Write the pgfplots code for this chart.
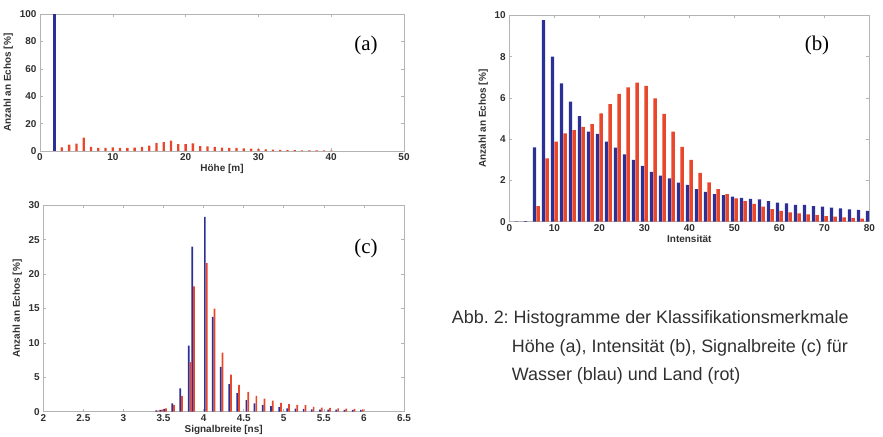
\documentclass[border=0pt]{standalone}
\usepackage{pgfplots}
\pgfplotsset{compat=1.18}
\usepackage{fontspec}
\setmainfont{Liberation Sans}
\newfontfamily\seriffont{Liberation Serif}
\definecolor{wblue}{HTML}{2B2F96}
\definecolor{lred}{HTML}{E8472B}
\definecolor{framegray}{HTML}{B4B4B4}
\definecolor{ticktext}{HTML}{303030}
\pgfplotsset{
  myaxis/.style={
    scale only axis,
    axis line style={framegray, line width=0.8bp},
    tick style={framegray, line width=0.6bp},
    major tick length=3bp,
    tick align=inside,
    xtick pos=both, ytick pos=both,
    tick label style={font=\fontsize{10}{12}\selectfont\bfseries, text=ticktext},
    /pgf/number format/assume math mode=true,
    label style={font=\fontsize{10}{12}\selectfont\bfseries, text=ticktext},
    xticklabel style={yshift=1bp},
  }
}
\frenchspacing
\begin{document}
\frenchspacing
\begin{tikzpicture}
\useasboundingbox (0,0) rectangle (883bp,-437bp);
% ---------- (a) ----------
\begin{axis}[myaxis, at={(40bp,-14bp)}, anchor=north west, width=364bp, height=137bp,
  xmin=0, xmax=50, ymin=0, ymax=100,
  xtick={0,10,...,50}, ytick={0,20,...,100},
  xlabel={Höhe [m]}, ylabel={Anzahl an Echos [\%]},
  xlabel style={yshift=3bp}]
\addplot[ybar, bar width=2.3bp, bar shift=0pt, fill=lred, draw=none] coordinates {
 (3,2.7) (4,4.6) (5,5.4) (6,9.8) (7,3.0) (8,2.2) (9,2.2) (10,2.7) (11,2.2) (12,2.2)
 (13,2.5) (14,3.0) (15,4.0) (16,6.0) (17,6.5) (18,7.5) (19,5.0) (20,5.0) (21,5.5) (22,3.6)
 (23,3.3) (24,3.0) (25,2.5) (26,2.2) (27,2.2) (28,2.0) (29,1.7) (30,1.5) (31,1.2) (32,1.0)
 (33,0.8) (34,0.7) (35,0.6) (36,0.5) (37,0.5) (38,0.4) (39,0.4) (40,0.3)};
\addplot[ybar, bar width=2.2bp, bar shift=0pt, fill=wblue, draw=none] coordinates {(2,100)};
\end{axis}
% ---------- (b) ----------
\begin{axis}[myaxis, at={(509.3bp,-15.3bp)}, anchor=north west, width=360bp, height=206.4bp,
  xmin=0, xmax=80, ymin=0, ymax=10,
  xtick={0,10,...,80}, ytick={0,2,...,10},
  xlabel={Intensität}, ylabel={Anzahl an Echos [\%]},
  xlabel style={yshift=3bp}]
\addplot[ybar, bar width=3.3bp, bar shift=-1.8bp, fill=wblue, draw=none] coordinates {
 (2,0.02) (4,0.03)
 (6,3.6) (8,9.77) (10,8.0) (12,6.7) (14,5.82) (16,5.12) (18,4.36) (20,4.25) (22,3.88) (24,3.59)
 (26,3.26) (28,2.99) (30,2.70) (32,2.42) (34,2.23) (36,2.10) (38,1.89) (40,1.78) (42,1.58) (44,1.45)
 (46,1.34) (48,1.29) (50,1.21) (52,1.16) (54,1.11) (56,1.08) (58,1.00) (60,0.92) (62,0.89) (64,0.82)
 (66,0.81) (68,0.76) (70,0.73) (72,0.68) (74,0.65) (76,0.60) (78,0.57) (80,0.53)};
\addplot[ybar, bar width=3.3bp, bar shift=1.8bp, fill=lred, draw=none] coordinates {
 (6,0.76) (8,3.07) (10,3.88) (12,4.28) (14,4.44) (16,4.60) (18,4.73) (20,5.25) (22,5.70) (24,6.19)
 (26,6.51) (28,6.74) (30,6.58) (32,5.98) (34,5.22) (36,4.36) (38,3.63) (40,2.99) (42,2.37) (44,1.91)
 (46,1.58) (48,1.34) (50,1.13) (52,1.00) (54,0.86) (56,0.73) (58,0.61) (60,0.53) (62,0.45) (64,0.40)
 (66,0.36) (68,0.32) (70,0.27) (72,0.24) (74,0.21) (76,0.18) (78,0.15)};
\end{axis}
% ---------- (c) ----------
\begin{axis}[myaxis, at={(43.3bp,-205.3bp)}, anchor=north west, width=360.7bp, height=206.4bp,
  xmin=2, xmax=6.5, ymin=0, ymax=30,
  xtick={2,2.5,...,6.5}, ytick={0,5,...,30},
  xlabel={Signalbreite [ns]}, ylabel={Anzahl an Echos [\%]},
  xlabel style={yshift=3bp}]
\addplot[ybar, bar width=1.7bp, bar shift=-0.9bp, fill=wblue, draw=none] coordinates {
 (3.42,0.2) (3.47,0.25) (3.52,0.4) (3.62,1.2) (3.72,3.4) (3.825,9.6) (3.87,24.0) (4.027,28.3)
 (4.125,13.8) (4.225,6.5) (4.33,4.0) (4.43,2.7) (4.545,1.7) (4.647,1.2) (4.749,1.0) (4.851,0.8)
 (4.953,0.65) (5.055,0.5) (5.157,0.45) (5.259,0.4) (5.361,0.35) (5.463,0.3) (5.565,0.3)
 (5.667,0.3) (5.769,0.25) (5.871,0.25) (5.973,0.25)};
\addplot[ybar, bar width=1.7bp, bar shift=0.9bp, fill=lred, draw=none] coordinates {
 (3.42,0.15) (3.47,0.3) (3.52,0.5) (3.62,1.0) (3.72,2.3) (3.825,7.2) (3.87,18.2) (4.027,21.6)
 (4.125,15.0) (4.225,8.6) (4.33,5.4) (4.43,3.9) (4.545,2.9) (4.647,2.3) (4.749,1.9) (4.851,1.6)
 (4.953,1.3) (5.055,1.1) (5.157,1.0) (5.259,0.95) (5.361,0.7) (5.463,0.6) (5.565,0.55)
 (5.667,0.5) (5.769,0.45) (5.871,0.4) (5.973,0.35)};
\end{axis}
% ---------- panel letters ----------
\node[font=\seriffont\fontsize{21}{24}\selectfont] at (366bp,-45bp) {(a)};
\node[font=\seriffont\fontsize{21}{24}\selectfont] at (817bp,-45bp) {(b)};
\node[font=\seriffont\fontsize{21}{24}\selectfont] at (366bp,-248bp) {(c)};
% ---------- caption ----------
\begin{scope}[every node/.style={font=\fontsize{18}{20}\selectfont, text=ticktext, inner sep=0pt, anchor=base west}]
\node at (451.7bp,-323.3bp) {Abb. 2: Histogramme der Klassifikationsmerkmale};
\node at (511.7bp,-352bp) {Höhe (a), Intensität (b), Signalbreite (c) für};
\node at (511.7bp,-380bp) {Wasser (blau) und Land (rot)};
\end{scope}
\end{tikzpicture}
\end{document}
